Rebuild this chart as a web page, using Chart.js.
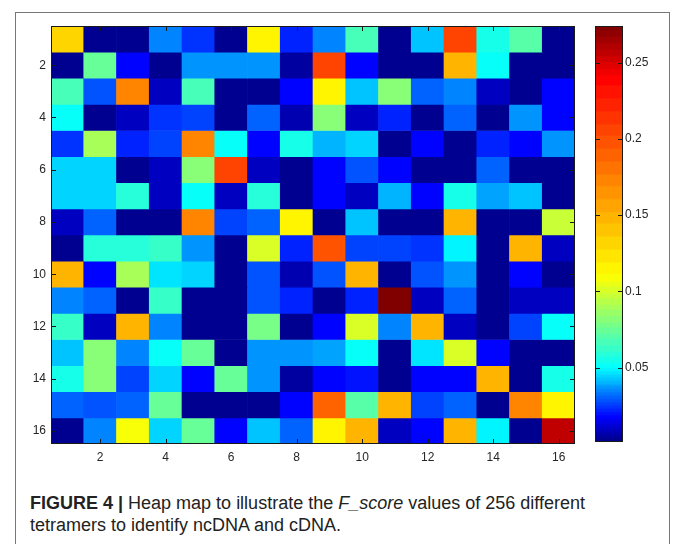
<!DOCTYPE html>
<html>
<head>
<meta charset="utf-8">
<script src="https://cdn.jsdelivr.net/npm/chart.js@4"></script>
<style>
  html, body { margin: 0; padding: 0; background: #fff; }
  body { width: 673px; height: 544px; position: relative; overflow: hidden; }
  #frame { position: absolute; left: 15px; top: 12px; width: 653px; height: 560px;
           border: 1px solid #777; border-bottom: none; }
  #heat { position: absolute; left: 0; top: 0; }
  #cbar { position: absolute; left: 560px; top: 0; }
  #caption { position: absolute; left: 30px; top: 493px; width: 636px;
             font: 18px "Liberation Sans", Arial, sans-serif; line-height: 21.7px;
             color: #222; white-space: nowrap; }
  #caption b { font-weight: bold; }
</style>
</head>
<body>
<div id="frame"></div>
<canvas id="heat" width="590" height="480"></canvas>
<canvas id="cbar" width="113" height="480"></canvas>
<div id="caption"><b>FIGURE 4 |</b> Heap map to illustrate the <i>F_score</i> values of 256 different<br>tetramers to identify ncDNA and cDNA.</div>
<script>
// columns 1..16 (x), rows 1..16 (y, top to bottom)
const COL_LABELS = ['1','2','3','4','5','6','7','8','9','10','11','12','13','14','15','16'];
const ROWS = [1,2,3,4,5,6,7,8,9,10,11,12,13,14,15,16];
const X_TICKS = [2,4,6,8,10,12,14,16];
const Y_TICKS = [2,4,6,8,10,12,14,16];
const CB_TICKS = [0.05, 0.1, 0.15, 0.2, 0.25];
const CB_MIN = 0.0013, CB_MAX = 0.274;

// F_score per tetramer, one array per row
const row1  = [0.130, 0.003, 0.003, 0.034, 0.024, 0.004, 0.112, 0.022, 0.035, 0.066, 0.003, 0.043, 0.205, 0.055, 0.070, 0.003];
const row2  = [0.003, 0.075, 0.018, 0.003, 0.037, 0.036, 0.036, 0.005, 0.210, 0.018, 0.003, 0.003, 0.150, 0.050, 0.003, 0.003];
const row3  = [0.065, 0.028, 0.170, 0.010, 0.065, 0.003, 0.003, 0.018, 0.112, 0.043, 0.080, 0.030, 0.034, 0.010, 0.003, 0.018];
const row4  = [0.050, 0.003, 0.010, 0.024, 0.026, 0.003, 0.030, 0.008, 0.080, 0.010, 0.022, 0.003, 0.030, 0.003, 0.037, 0.018];
const row5  = [0.024, 0.090, 0.022, 0.026, 0.170, 0.050, 0.018, 0.054, 0.040, 0.045, 0.003, 0.018, 0.003, 0.022, 0.018, 0.037];
const row6  = [0.045, 0.045, 0.003, 0.009, 0.080, 0.205, 0.009, 0.003, 0.018, 0.028, 0.018, 0.003, 0.003, 0.030, 0.003, 0.003];
const row7  = [0.045, 0.045, 0.058, 0.009, 0.052, 0.010, 0.058, 0.003, 0.018, 0.009, 0.040, 0.018, 0.055, 0.038, 0.043, 0.003];
const row8  = [0.010, 0.031, 0.003, 0.003, 0.170, 0.026, 0.030, 0.112, 0.003, 0.043, 0.003, 0.003, 0.150, 0.003, 0.003, 0.097];
const row9  = [0.003, 0.058, 0.058, 0.063, 0.037, 0.003, 0.102, 0.022, 0.200, 0.026, 0.026, 0.024, 0.048, 0.003, 0.150, 0.009];
const row10 = [0.145, 0.018, 0.088, 0.047, 0.045, 0.003, 0.028, 0.008, 0.028, 0.145, 0.003, 0.028, 0.037, 0.003, 0.018, 0.003];
const row11 = [0.035, 0.030, 0.003, 0.063, 0.003, 0.003, 0.028, 0.022, 0.003, 0.022, 0.274, 0.010, 0.031, 0.003, 0.009, 0.009];
const row12 = [0.063, 0.009, 0.145, 0.035, 0.003, 0.003, 0.078, 0.003, 0.018, 0.102, 0.035, 0.145, 0.010, 0.003, 0.026, 0.050];
const row13 = [0.043, 0.083, 0.035, 0.050, 0.075, 0.003, 0.037, 0.037, 0.038, 0.052, 0.003, 0.047, 0.100, 0.018, 0.003, 0.003];
const row14 = [0.055, 0.083, 0.026, 0.045, 0.018, 0.075, 0.037, 0.006, 0.018, 0.020, 0.003, 0.018, 0.018, 0.145, 0.003, 0.057];
const row15 = [0.030, 0.028, 0.031, 0.075, 0.003, 0.003, 0.003, 0.018, 0.190, 0.070, 0.145, 0.026, 0.030, 0.003, 0.175, 0.115];
const row16 = [0.003, 0.034, 0.108, 0.045, 0.075, 0.018, 0.043, 0.030, 0.112, 0.145, 0.010, 0.018, 0.148, 0.048, 0.003, 0.258];
const GRID = [row1, row2, row3, row4, row5, row6, row7, row8, row9, row10, row11, row12, row13, row14, row15, row16];

// colour scale: value -> position in jet (the figure's jet is not linear in value)
const CMAP_V = [CB_MIN, 0.018, 0.05, 0.11, 0.24, CB_MAX];
const CMAP_T = [0, 0.125, 0.375, 0.625, 0.875, 1];

function valueToT(v) {
  if (v <= CMAP_V[0]) return 0;
  for (let i = 1; i < CMAP_V.length; i++) {
    if (v <= CMAP_V[i]) {
      const f = (v - CMAP_V[i - 1]) / (CMAP_V[i] - CMAP_V[i - 1]);
      return CMAP_T[i - 1] + f * (CMAP_T[i] - CMAP_T[i - 1]);
    }
  }
  return 1;
}

function jet(t) {
  t = Math.round(t * 63) / 63; // 64 levels like matlab
  const c = x => Math.round(255 * Math.max(0, Math.min(1, x)));
  const r = c(1.5 - Math.abs(4 * t - 3));
  const g = c(1.5 - Math.abs(4 * t - 2));
  const b = c(1.5 - Math.abs(4 * t - 1));
  return `rgb(${r},${g},${b})`;
}

const colorFor = v => jet(valueToT(v));
const FONT = { family: '"Liberation Sans", Arial, sans-serif', size: 12 };
const TICK_COLOR = '#262626';

// box + inward tick marks, matlab style
function drawFrame(chart, xs, ys) {
  const { ctx: c, chartArea: a } = chart;
  c.save();
  c.strokeStyle = '#1a1a1a';
  c.lineWidth = 1;
  c.strokeRect(a.left + 0.5, a.top + 0.5, a.right - a.left - 1, a.bottom - a.top - 1);
  c.beginPath();
  xs.forEach(x => {
    x = Math.round(x) + 0.5;
    c.moveTo(x, a.bottom); c.lineTo(x, a.bottom - 5);
    c.moveTo(x, a.top); c.lineTo(x, a.top + 5);
  });
  ys.forEach(y => {
    y = Math.round(y) + 0.5;
    c.moveTo(a.left, y); c.lineTo(a.left + 5, y);
    c.moveTo(a.right, y); c.lineTo(a.right - 5, y);
  });
  c.stroke();
  c.restore();
}

const heatFrame = {
  id: 'heatFrame',
  afterDraw(chart) {
    const { x, y } = chart.scales;
    drawFrame(chart,
      X_TICKS.map(v => x.getPixelForValue(COL_LABELS.indexOf(String(v)))),
      Y_TICKS.map(v => y.getPixelForValue(v)));
  }
};

const heatDatasets = GRID.map((vals, i) => ({
  label: 'row ' + ROWS[i],
  data: vals.map(() => [ROWS[i] - 0.5, ROWS[i] + 0.5]),
  backgroundColor: vals.map(colorFor),
  borderWidth: 0,
  barPercentage: 1,
  categoryPercentage: 1,
  grouped: false,
}));

new Chart(document.getElementById('heat'), {
  type: 'bar',
  data: { labels: COL_LABELS, datasets: heatDatasets },
  plugins: [heatFrame],
  options: {
    responsive: false,
    devicePixelRatio: 1,
    animation: false,
    layout: { padding: { left: 21, right: 15, top: 26, bottom: 14 } },
    plugins: { legend: { display: false }, tooltip: { enabled: false } },
    scales: {
      x: {
        grid: { display: false, drawTicks: false },
        border: { display: false },
        ticks: {
          autoSkip: false, maxRotation: 0, padding: 6, color: TICK_COLOR, font: FONT,
          callback(val, idx) { return X_TICKS.includes(idx + 1) ? COL_LABELS[idx] : ''; }
        },
        afterFit(scale) { scale.height = 22; }
      },
      y: {
        type: 'linear',
        reverse: true,
        min: 0.5,
        max: 16.5,
        grid: { display: false, drawTicks: false },
        border: { display: false },
        ticks: { padding: 5, color: TICK_COLOR, font: FONT },
        afterBuildTicks(scale) { scale.ticks = Y_TICKS.map(v => ({ value: v })); },
        afterFit(scale) { scale.width = 30; }
      }
    }
  }
});

// colour bar
const cbFrame = {
  id: 'cbFrame',
  afterDraw(chart) {
    drawFrame(chart, [], CB_TICKS.map(v => chart.scales.y.getPixelForValue(v)));
  }
};

function cbGradient(context) {
  const { chart } = context;
  if (!chart.chartArea) return null;
  const y = chart.scales.y;
  const y0 = y.getPixelForValue(CB_MIN), y1 = y.getPixelForValue(CB_MAX);
  const g = chart.ctx.createLinearGradient(0, y0, 0, y1);
  const n = 256;
  for (let k = 0; k <= n; k++) {
    const v = CB_MIN + (CB_MAX - CB_MIN) * k / n;
    g.addColorStop(k / n, colorFor(v));
  }
  return g;
}

new Chart(document.getElementById('cbar'), {
  type: 'bar',
  data: {
    labels: [''],
    datasets: [{ data: [[CB_MIN, CB_MAX]], backgroundColor: cbGradient, borderWidth: 0,
                 barPercentage: 1, categoryPercentage: 1 }]
  },
  plugins: [cbFrame],
  options: {
    responsive: false,
    devicePixelRatio: 1,
    animation: false,
    layout: { padding: { left: 35, right: 10, top: 26, bottom: 38 } },
    plugins: { legend: { display: false }, tooltip: { enabled: false } },
    scales: {
      x: { display: false },
      y: {
        position: 'right',
        min: CB_MIN,
        max: CB_MAX,
        grid: { display: false, drawTicks: false },
        border: { display: false },
        ticks: { padding: 2, color: TICK_COLOR, font: FONT, callback: v => String(v) },
        afterBuildTicks(scale) { scale.ticks = CB_TICKS.map(v => ({ value: v })); },
        afterFit(scale) { scale.width = 40; }
      }
    }
  }
});
</script>
</body>
</html>
